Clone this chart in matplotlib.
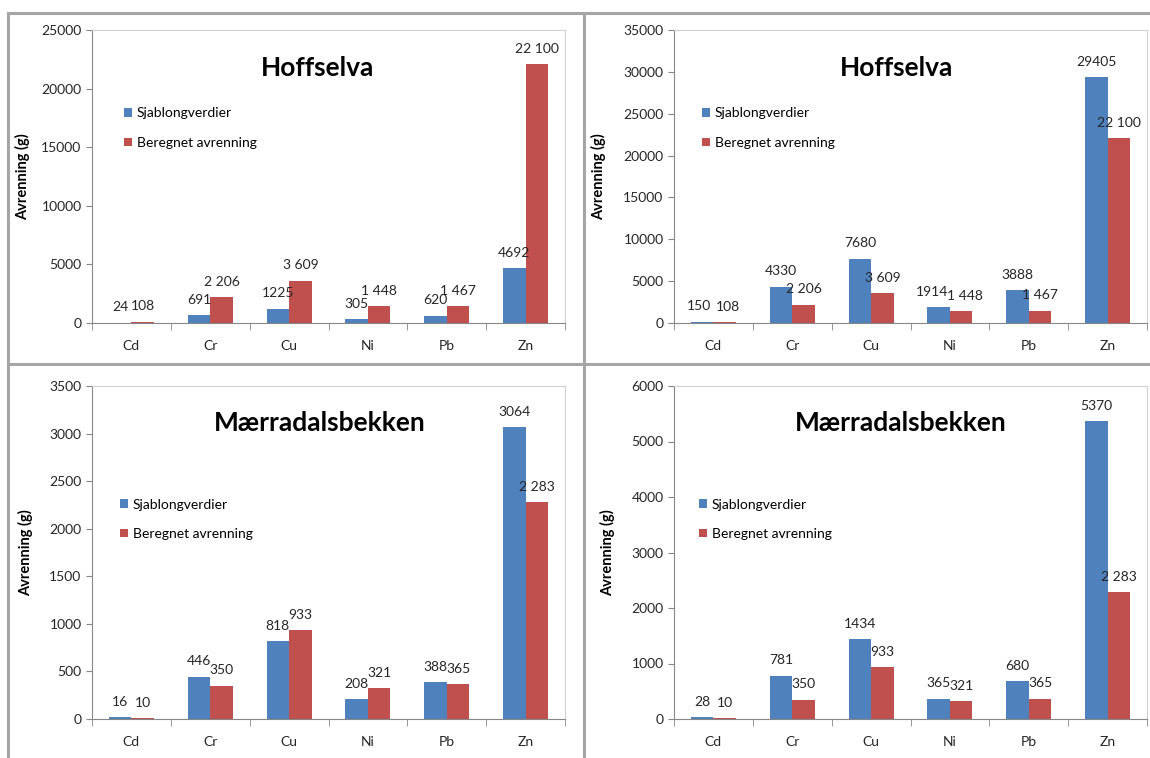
import matplotlib
matplotlib.use("Agg")
import matplotlib.pyplot as plt
from matplotlib.lines import Line2D
import numpy as np

plt.rcParams['font.family'] = ['Lato', 'DejaVu Sans']

categories = ["Cd", "Cr", "Cu", "Ni", "Pb", "Zn"]
series_names = ["Sjablongverdier", "Beregnet avrenning"]

hoff_sjablong_a = [24, 691, 1225, 305, 620, 4692]
hoff_beregnet = [108, 2206, 3609, 1448, 1467, 22100]
hoff_sjablong_b = [150, 4330, 7680, 1914, 3888, 29405]

maer_sjablong_a = [16, 446, 818, 208, 388, 3064]
maer_beregnet = [10, 350, 933, 321, 365, 2283]
maer_sjablong_b = [28, 781, 1434, 365, 680, 5370]

titles = ["Hoffselva", "Hoffselva", "Mærradalsbekken", "Mærradalsbekken"]
ylims = [25000, 35000, 3500, 6000]
ysteps = [5000, 5000, 500, 1000]
ylabel = "Avrenning (g)"

BLUE = "#4F81BD"
RED = "#C0504D"
W, H = 1150, 758

fig = plt.figure(figsize=(W / 100, H / 100), dpi=100)
fig.patch.set_facecolor("white")


def px_rect(left, right, top, bottom):
    return [left / W, 1 - bottom / H, (right - left) / W, (bottom - top) / H]


panels = [
    dict(rect=px_rect(92, 565, 30, 323), blue=hoff_sjablong_a, red=hoff_beregnet,
         title_xy=(0.476, 0.87), leg_xy=(0.068, 0.665), ylab_x=-0.131),
    dict(rect=px_rect(674, 1147, 30, 323), blue=hoff_sjablong_b, red=hoff_beregnet,
         title_xy=(0.471, 0.87), leg_xy=(0.060, 0.665), ylab_x=-0.144),
    dict(rect=px_rect(92, 565, 386, 719), blue=maer_sjablong_a, red=maer_beregnet,
         title_xy=(0.482, 0.889), leg_xy=(0.060, 0.60), ylab_x=-0.125),
    dict(rect=px_rect(674, 1147, 386, 719), blue=maer_sjablong_b, red=maer_beregnet,
         title_xy=(0.48, 0.889), leg_xy=(0.053, 0.60), ylab_x=-0.125),
]

# small horizontal nudges (points) for crowded labels: (panel, series, category) -> dx
label_nudge = {(1, 0, 3): -5, (1, 1, 3): 3, (1, 0, 0): -2, (1, 1, 0): 2}


def fmt_space(v):
    return f"{v:,}".replace(",", " ")


x = np.arange(len(categories))
bw = 1 / 3.5

for i, p in enumerate(panels):
    ax = fig.add_axes(p["rect"])
    b1 = ax.bar(x - bw / 2, p["blue"], width=bw, color=BLUE, label=series_names[0])
    b2 = ax.bar(x + bw / 2, p["red"], width=bw, color=RED, label=series_names[1])
    for s, (bars, vals, fmt) in enumerate([(b1, p["blue"], str), (b2, p["red"], fmt_space)]):
        for k, (rect, v) in enumerate(zip(bars, vals)):
            dx = label_nudge.get((i, s, k), 0)
            ax.annotate(fmt(v), (rect.get_x() + rect.get_width() / 2, v),
                        xytext=(dx, 11), textcoords="offset points",
                        ha="center", va="center", fontsize=10, color="#262626")
    ax.set_xlim(-0.5, len(categories) - 0.5)
    ax.set_ylim(0, ylims[i])
    ax.set_yticks(np.arange(0, ylims[i] + 1, ysteps[i]))
    ax.set_xticks(x)
    ax.set_xticklabels(categories, fontsize=10, color="#262626")
    ax.set_xticks(np.arange(-0.5, len(categories), 1), minor=True)
    ax.tick_params(axis="x", which="major", length=0, pad=12)
    ax.tick_params(axis="x", which="minor", length=5, color="#868686", direction="out")
    ax.tick_params(axis="y", length=4, color="#868686", labelsize=10, labelcolor="#262626")
    for sp in ["left", "bottom"]:
        ax.spines[sp].set_color("#868686")
    for sp in ["top", "right"]:
        ax.spines[sp].set_color("#D0D0D0")
    ax.set_ylabel(ylabel, fontsize=10.5, fontweight="bold")
    ax.yaxis.set_label_coords(p["ylab_x"], 0.5)
    ax.text(p["title_xy"][0], p["title_xy"][1], titles[i], transform=ax.transAxes,
            ha="center", va="center", fontsize=19, fontweight="bold")
    ax.legend(loc="center left", bbox_to_anchor=p["leg_xy"], frameon=False,
              fontsize=10, handlelength=0.55, handleheight=0.55, handletextpad=0.35,
              labelspacing=1.25, borderpad=0, borderaxespad=0)

# panel frame lines
frame_color = "#A6A6A6"
segments = [
    ((8, 13), (1150, 13)),
    ((8, 13), (8, 758)),
    ((584, 13), (584, 758)),
    ((8, 364), (1150, 364)),
]
for (x0, y0), (x1, y1) in segments:
    fig.add_artist(Line2D([x0 / W, x1 / W], [1 - y0 / H, 1 - y1 / H],
                          transform=fig.transFigure, color=frame_color, lw=2.2))

fig.savefig("out.png", dpi=100, facecolor="white")
